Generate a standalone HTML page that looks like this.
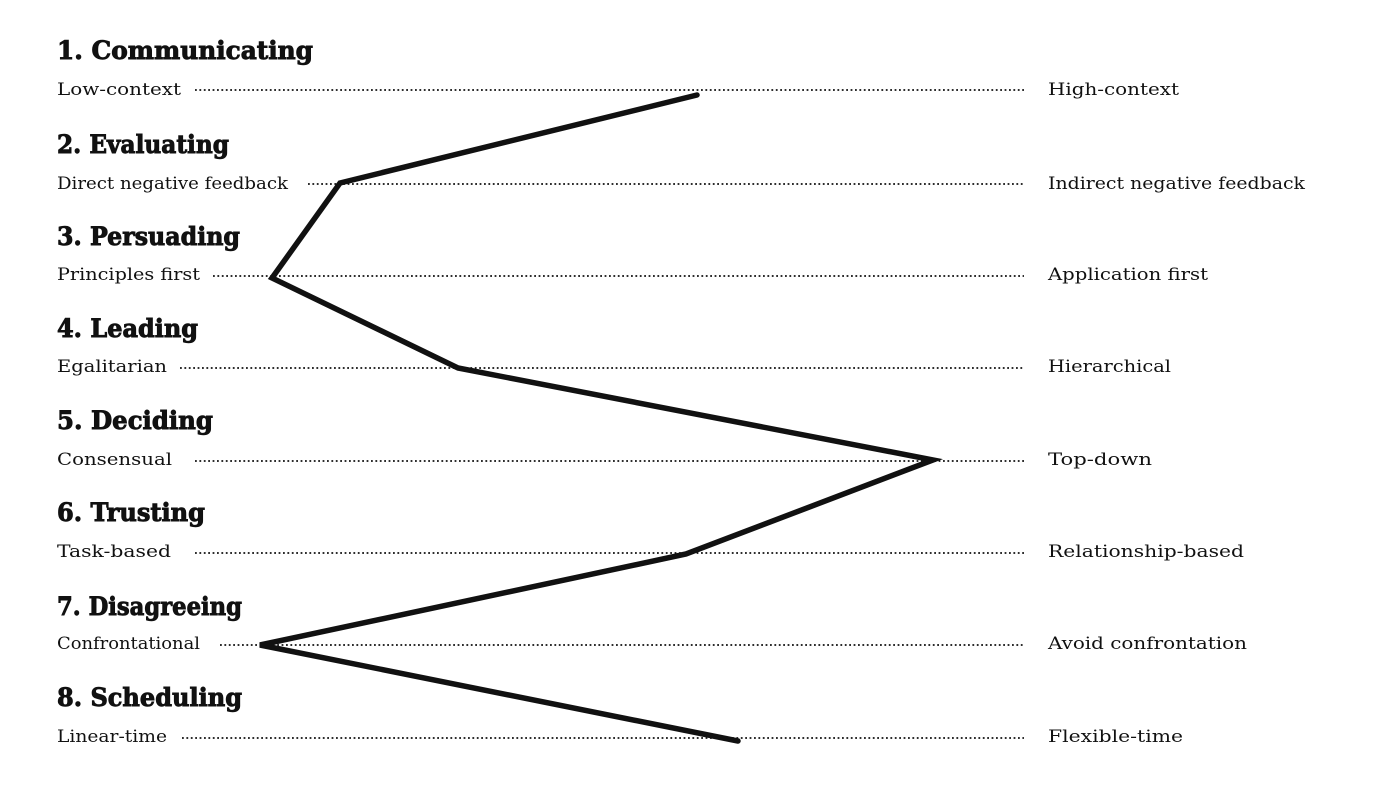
<!DOCTYPE html>
<html><head><meta charset="utf-8"><style>
html,body{margin:0;padding:0;background:#fff;}
svg{display:block;}
.h{font-family:"DejaVu Serif",serif;font-weight:bold;font-size:25px;fill:#111;stroke:#111;stroke-width:0.9;}
.l{font-family:"DejaVu Serif",serif;font-size:17px;fill:#111;}
.d{stroke:#111;stroke-width:1.8;stroke-dasharray:1.8 2.6;}
</style></head><body>
<svg width="1400" height="787" viewBox="0 0 1400 787" xmlns="http://www.w3.org/2000/svg">
<g>
<text class="h" x="57" y="59" textLength="256" lengthAdjust="spacingAndGlyphs">1. Communicating</text>
<text class="h" x="57" y="153" textLength="172" lengthAdjust="spacingAndGlyphs">2. Evaluating</text>
<text class="h" x="57" y="245" textLength="183" lengthAdjust="spacingAndGlyphs">3. Persuading</text>
<text class="h" x="57" y="337" textLength="141" lengthAdjust="spacingAndGlyphs">4. Leading</text>
<text class="h" x="57" y="429" textLength="156" lengthAdjust="spacingAndGlyphs">5. Deciding</text>
<text class="h" x="57" y="521" textLength="148" lengthAdjust="spacingAndGlyphs">6. Trusting</text>
<text class="h" x="57" y="615" textLength="185" lengthAdjust="spacingAndGlyphs">7. Disagreeing</text>
<text class="h" x="57" y="706" textLength="185" lengthAdjust="spacingAndGlyphs">8. Scheduling</text>
</g>
<g>
<text class="l" x="57" y="95" textLength="124" lengthAdjust="spacingAndGlyphs">Low-context</text>
<text class="l" x="57" y="189" textLength="231" lengthAdjust="spacingAndGlyphs">Direct negative feedback</text>
<text class="l" x="57" y="280" textLength="143" lengthAdjust="spacingAndGlyphs">Principles first</text>
<text class="l" x="57" y="372" textLength="110" lengthAdjust="spacingAndGlyphs">Egalitarian</text>
<text class="l" x="57" y="465" textLength="115" lengthAdjust="spacingAndGlyphs">Consensual</text>
<text class="l" x="57" y="557" textLength="114" lengthAdjust="spacingAndGlyphs">Task-based</text>
<text class="l" x="57" y="649" textLength="143" lengthAdjust="spacingAndGlyphs">Confrontational</text>
<text class="l" x="57" y="742" textLength="110" lengthAdjust="spacingAndGlyphs">Linear-time</text>

<text class="l" x="1048" y="95" textLength="131" lengthAdjust="spacingAndGlyphs">High-context</text>
<text class="l" x="1048" y="189" textLength="257" lengthAdjust="spacingAndGlyphs">Indirect negative feedback</text>
<text class="l" x="1048" y="280" textLength="160" lengthAdjust="spacingAndGlyphs">Application first</text>
<text class="l" x="1048" y="372" textLength="123" lengthAdjust="spacingAndGlyphs">Hierarchical</text>
<text class="l" x="1048" y="465" textLength="104" lengthAdjust="spacingAndGlyphs">Top-down</text>
<text class="l" x="1048" y="557" textLength="196" lengthAdjust="spacingAndGlyphs">Relationship-based</text>
<text class="l" x="1048" y="649" textLength="199" lengthAdjust="spacingAndGlyphs">Avoid confrontation</text>
<text class="l" x="1048" y="742" textLength="135" lengthAdjust="spacingAndGlyphs">Flexible-time</text>
</g>
<g class="d">
<line x1="195" y1="90" x2="1024" y2="90"/>
<line x1="308" y1="184" x2="1024" y2="184"/>
<line x1="213" y1="276" x2="1024" y2="276"/>
<line x1="180" y1="368" x2="1024" y2="368"/>
<line x1="195" y1="461" x2="1024" y2="461"/>
<line x1="195" y1="553" x2="1024" y2="553"/>
<line x1="220" y1="645" x2="1024" y2="645"/>
<line x1="182" y1="738" x2="1024" y2="738"/>
</g>
<polyline points="697,95 340,183 272,278 458,368 933,460 686,554 260,645 738,741" fill="none" stroke="#111" stroke-width="5.5" stroke-linejoin="miter" stroke-linecap="round"/>
</svg>
</body></html>
